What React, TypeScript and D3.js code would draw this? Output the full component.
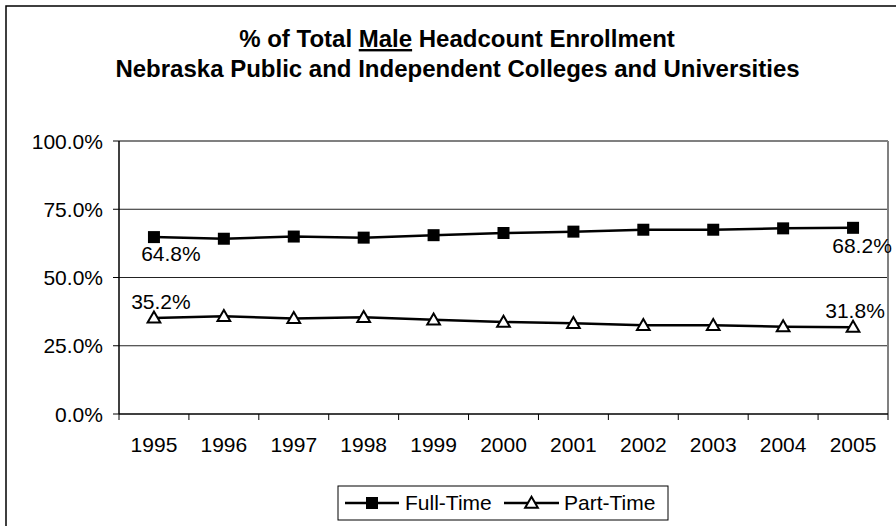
import React from "react";
import * as d3 from "d3";

const years = ["1995","1996","1997","1998","1999","2000","2001","2002","2003","2004","2005"];
const fullTime = [64.8, 64.2, 65.0, 64.6, 65.5, 66.3, 66.8, 67.5, 67.5, 68.0, 68.2];
const partTime = [35.2, 35.8, 35.0, 35.4, 34.5, 33.7, 33.2, 32.5, 32.5, 32.0, 31.8];
const yTicks = [0, 25, 50, 75, 100];
const seriesNames = ["Full-Time", "Part-Time"];

const W = 896, H = 526;
const L = 119, R = 888, T = 141, B = 414;
const FONT = "Liberation Sans, Arial, sans-serif";
const FS = 21;

export default function App() {
  const x = d3.scaleBand<string>().domain(years).range([L, R]);
  const y = d3.scaleLinear().domain([0, 100]).range([B, T]);
  const cx = (d: string) => (x(d) as number) + x.bandwidth() / 2;
  const line = d3.line<number>().x((_, i) => cx(years[i])).y((v) => y(v));
  const tri = d3.symbol().type(d3.symbolTriangle).size(70)();
  const last = years.length - 1;

  return (
    <svg width={W} height={H} style={{ position: "fixed", left: 0, top: 0, background: "#fff" }} fontFamily={FONT}>
      <rect x={6} y={6} width={W + 20} height={H + 20} fill="#fff" stroke="#000" strokeWidth={1.5} />
      <text x={457} y={47} textAnchor="middle" fontWeight="bold" fontSize={24}>
        % of Total <tspan textDecoration="underline">Male</tspan> Headcount Enrollment
      </text>
      <text x={457.5} y={77} textAnchor="middle" fontWeight="bold" fontSize={24}>
        Nebraska Public and Independent Colleges and Universities
      </text>

      {yTicks.filter((t) => t > 0 && t < 100).map((t) => (
        <line key={t} x1={L} x2={R} y1={y(t)} y2={y(t)} stroke="#222" strokeWidth={1} />
      ))}
      <line x1={L} x2={R} y1={T} y2={T} stroke="#808080" strokeWidth={2} />
      <line x1={R} x2={R} y1={T} y2={B} stroke="#808080" strokeWidth={2} />
      <line x1={L} x2={L} y1={T} y2={B} stroke="#000" strokeWidth={1.5} />
      <line x1={L} x2={R} y1={B} y2={B} stroke="#000" strokeWidth={1.5} />

      {yTicks.map((t) => (
        <g key={t}>
          <line x1={L - 6} x2={L} y1={y(t)} y2={y(t)} stroke="#000" strokeWidth={1} />
          <text x={103} y={y(t) + 7.5} textAnchor="end" fontSize={FS}>{t.toFixed(1)}%</text>
        </g>
      ))}
      {years.map((yr) => (
        <line key={"t" + yr} x1={x(yr)} x2={x(yr)} y1={B} y2={B + 6} stroke="#000" strokeWidth={1} />
      ))}
      <line x1={R} x2={R} y1={B} y2={B + 6} stroke="#000" strokeWidth={1} />
      {years.map((yr) => (
        <text key={"l" + yr} x={cx(yr)} y={452} textAnchor="middle" fontSize={FS}>{yr}</text>
      ))}

      <path d={line(fullTime) || ""} fill="none" stroke="#000" strokeWidth={2.5} />
      <path d={line(partTime) || ""} fill="none" stroke="#000" strokeWidth={2.5} />
      {fullTime.map((v, i) => (
        <rect key={"f" + i} x={cx(years[i]) - 6} y={y(v) - 6} width={12} height={12} fill="#000" />
      ))}
      {partTime.map((v, i) => (
        <path key={"p" + i} d={tri || ""} transform={`translate(${cx(years[i])},${y(v) + 1})`} fill="#fff" stroke="#000" strokeWidth={2} />
      ))}

      <text x={cx(years[0]) + 17} y={y(fullTime[0]) + 24} textAnchor="middle" fontSize={FS}>{fullTime[0].toFixed(1)}%</text>
      <text x={cx(years[0]) + 7} y={y(partTime[0]) - 9} textAnchor="middle" fontSize={FS}>{partTime[0].toFixed(1)}%</text>
      <text x={cx(years[last]) + 9} y={y(fullTime[last]) + 25} textAnchor="middle" fontSize={FS}>{fullTime[last].toFixed(1)}%</text>
      <text x={cx(years[last]) + 2} y={y(partTime[last]) - 9} textAnchor="middle" fontSize={FS}>{partTime[last].toFixed(1)}%</text>

      <g>
        <rect x={338} y={486} width={330} height={34} fill="#fff" stroke="#000" strokeWidth={1} />
        <line x1={345} x2={399} y1={503} y2={503} stroke="#000" strokeWidth={2.5} />
        <rect x={366} y={497} width={12} height={12} fill="#000" />
        <text x={405} y={510} fontSize={FS}>{seriesNames[0]}</text>
        <line x1={504} x2={559} y1={503} y2={503} stroke="#000" strokeWidth={2.5} />
        <path d={tri || ""} transform="translate(531.5,504)" fill="#fff" stroke="#000" strokeWidth={2} />
        <text x={564} y={510} fontSize={FS}>{seriesNames[1]}</text>
      </g>
    </svg>
  );
}
